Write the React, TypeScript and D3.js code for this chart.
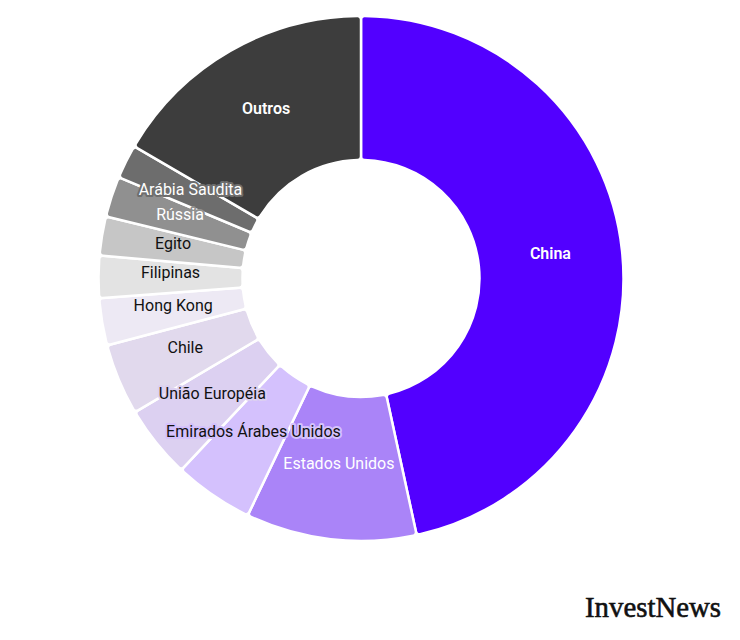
import React from "react";
import * as d3 from "d3";

const categories = [
  "China",
  "Estados Unidos",
  "Emirados Árabes Unidos",
  "União Européia",
  "Chile",
  "Hong Kong",
  "Filipinas",
  "Egito",
  "Rússia",
  "Arábia Saudita",
  "Outros",
];
const values = [46.6, 10.5, 4.9, 4.5, 4.4, 2.9, 2.6, 2.4, 2.5, 2.1, 16.6];
const colors = [
  "#5200ff",
  "#aa84f8",
  "#d4c1fd",
  "#dcd0f1",
  "#e1d9ed",
  "#ede9f4",
  "#e3e3e3",
  "#c6c6c6",
  "#909090",
  "#6d6d6d",
  "#3d3d3d",
];
const labelColors = [
  "#ffffff",
  "#ffffff",
  "#111111",
  "#111111",
  "#111111",
  "#111111",
  "#111111",
  "#111111",
  "#ffffff",
  "#ffffff",
  "#ffffff",
];
const boldLabels = ["China", "Outros"];

const W = 740;
const H = 640;
const cx = 361;
const cy = 278.5;
const outerR = 262.5;
const innerR = 118.5;

export default function App() {
  const data = categories.map((c, i) => ({ name: c, value: values[i], i }));
  const pie = d3
    .pie<any>()
    .sort(null)
    .value((d: any) => d.value)
    .startAngle(0)
    .endAngle(2 * Math.PI);
  const arcs = pie(data);
  const arc = d3
    .arc<any>()
    .innerRadius(innerR)
    .outerRadius(outerR)
    .cornerRadius(3.5);
  const labelArc = d3
    .arc<any>()
    .innerRadius(innerR)
    .outerRadius(outerR);

  return (
    <svg
      width={W}
      height={H}
      style={{ position: "absolute", left: 0, top: 0, background: "#fff" }}
    >
      <g transform={`translate(${cx},${cy})`}>
        {arcs.map((a: any, k: number) => (
          <path
            key={k}
            d={arc(a) as string}
            fill={colors[a.data.i]}
            stroke="#ffffff"
            strokeWidth={2.5}
            strokeLinejoin="round"
          />
        ))}
        {arcs.map((a: any, k: number) => {
          const [x, y] = labelArc.centroid(a);
          const bold = boldLabels.includes(a.data.name);
          return (
            <text
              key={"l" + k}
              x={x}
              y={y - 4.5}
              textAnchor="middle"
              dominantBaseline="central"
              fontFamily="Roboto, 'Open Sans', sans-serif"
              fontSize={16}
              fontWeight={bold ? 600 : 400}
              fill={labelColors[a.data.i]}
              stroke={colors[a.data.i]}
              strokeWidth={4}
              strokeLinejoin="round"
              paintOrder="stroke"
            >
              {a.data.name}
            </text>
          );
        })}
      </g>
      <text
        x={585}
        y={617}
        fontFamily="'Liberation Serif', 'DejaVu Serif', serif"
        fontSize={30}
        fontWeight={400}
        fill="#111"
        stroke="#111"
        strokeWidth={0.6}
        textLength={136}
        lengthAdjust="spacingAndGlyphs"
      >
        InvestNews
      </text>
    </svg>
  );
}
